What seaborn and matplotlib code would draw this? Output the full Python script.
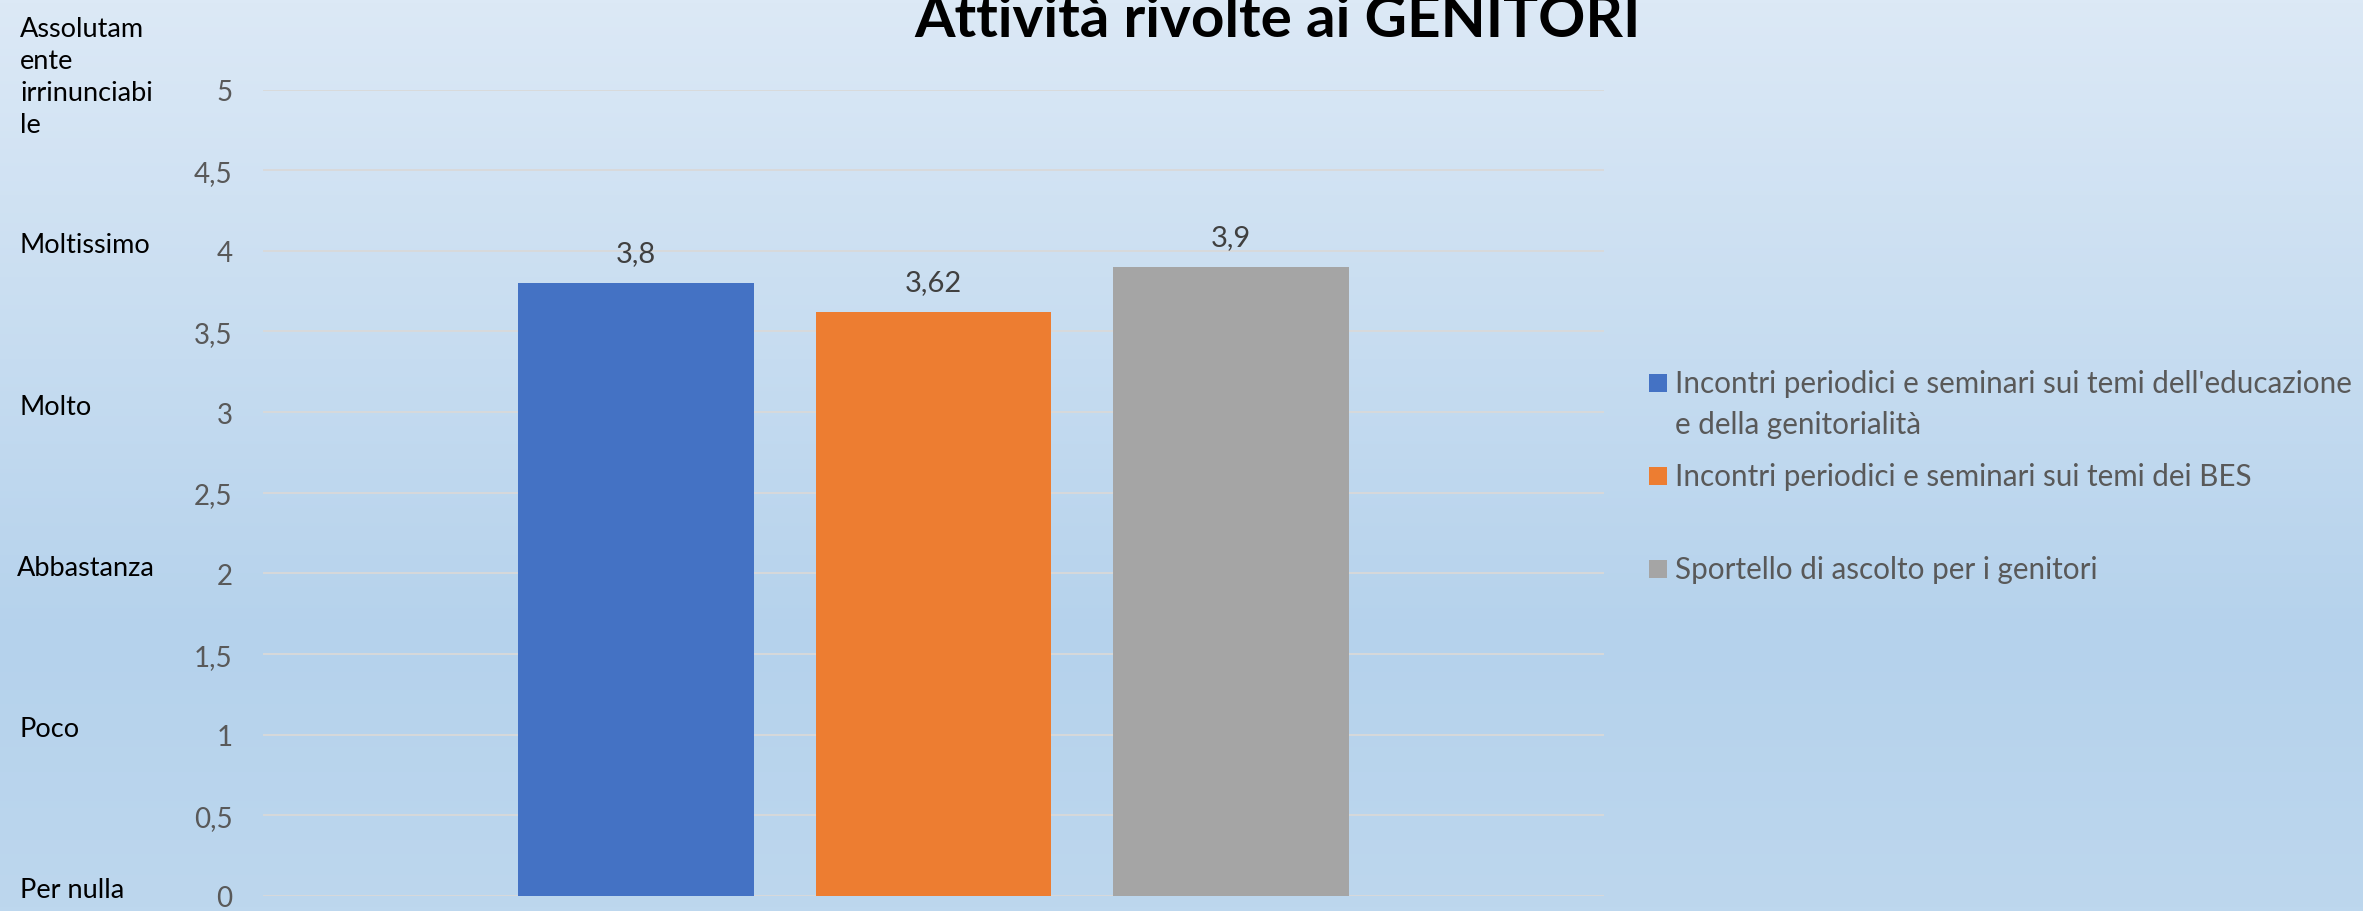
import numpy as np
import pandas as pd
import matplotlib
matplotlib.use("Agg")
import matplotlib.pyplot as plt
import matplotlib.transforms as mtransforms
from matplotlib.colors import LinearSegmentedColormap
from matplotlib.patches import Rectangle
import seaborn as sns

# --- Data ---
categoria = ["Attività"]
serie = [
    "Incontri periodici e seminari sui temi dell'educazione\ne della genitorialità",
    "Incontri periodici e seminari sui temi dei BES",
    "Sportello di ascolto per i genitori",
]
valori = [3.8, 3.62, 3.9]
colori = ["#4472C4", "#ED7D31", "#A5A5A5"]
y_ticks = [0, 0.5, 1, 1.5, 2, 2.5, 3, 3.5, 4, 4.5, 5]
scala_labels = ["Per nulla", "Poco", "Abbastanza", "Molto", "Moltissimo",
                "Assolutam\nente\nirrinunciabi\nle"]
scala_valori = [0, 1, 2, 3, 4, 5]
titolo = "Attività rivolte ai GENITORI"

df = pd.DataFrame({"cat": categoria * len(serie), "serie": serie, "valore": valori})


def virgola(v):
    return f"{v:g}".replace(".", ",")


sns.set_theme(style="white")
plt.rcParams["font.family"] = ["Lato", "DejaVu Sans"]

W, H = 2363, 912
fig = plt.figure(figsize=(W / 100, H / 100), dpi=100)

# --- Gradient background ---
bg = fig.add_axes([0, 0, 1, 1], zorder=-10)
cmap = LinearSegmentedColormap.from_list(
    "bg", [(0, "#DCE9F6"), (0.7, "#B5D2EC"), (1, "#BDD7EE")])
grad = np.linspace(0, 1, 256).reshape(-1, 1)
bg.imshow(grad, aspect="auto", cmap=cmap, extent=[0, 1, 0, 1], origin="upper")
bg.set_axis_off()

# --- Main plot ---
ax = fig.add_axes([263 / W, 15 / H, 1341 / W, (897 - 90.5) / H])
ax.set_facecolor("none")
sns.barplot(data=df, x="cat", y="valore", hue="serie", hue_order=serie,
            palette=colori, width=0.8, gap=0.21, saturation=1, linewidth=0,
            legend=False, ax=ax, zorder=3)
ax.set_xlim(-0.601, 0.601)
ax.set_ylim(0, 5)
ax.set_yticks(y_ticks)
ax.set_yticklabels([virgola(t) for t in y_ticks], color="#595959", fontsize=20)
ax.tick_params(axis="y", length=0, pad=22)
ax.set_xticks([])
ax.set_xlabel("")
ax.set_ylabel("")
ax.grid(axis="y", color="#D9D9D9", linewidth=1.3, zorder=0)
for s in ax.spines.values():
    s.set_visible(False)

for cont, v in zip(ax.containers, valori):
    ax.bar_label(cont, labels=[virgola(v)], padding=12, color="#404040", fontsize=21)

# --- Scale labels on the left ---
trans = mtransforms.blended_transform_factory(fig.transFigure, ax.transData)
off = mtransforms.ScaledTranslation(0, 6 / 100, fig.dpi_scale_trans)
for lab, v in zip(scala_labels, scala_valori):
    dy = 7 / 100 if "\n" in lab else 0
    t = trans + off + mtransforms.ScaledTranslation(0, dy, fig.dpi_scale_trans)
    fig.text(20 / W if lab != "Abbastanza" else 17 / W, v, lab, transform=t,
             ha="left", va="center", fontsize=19.5, color="black", linespacing=1.35)

# --- Title ---
fig.text(1278 / W, 1 - 37 / H, titolo, ha="center", va="baseline",
         fontsize=42, fontweight="bold", color="black")

# --- Legend ---
leg_y = [384, 477, 570]
for lab, col, yc in zip(serie, colori, leg_y):
    fig.patches.append(Rectangle((1649 / W, 1 - (yc + 9) / H), 18 / W, 18 / H,
                                 transform=fig.transFigure, facecolor=col,
                                 edgecolor="none"))
    for i, riga in enumerate(lab.split("\n")):
        fig.text(1675 / W, 1 - (yc + 41 * i) / H, riga, ha="left", va="center",
                 fontsize=21.3, color="#595959")

fig.savefig("out.png", dpi=100)
